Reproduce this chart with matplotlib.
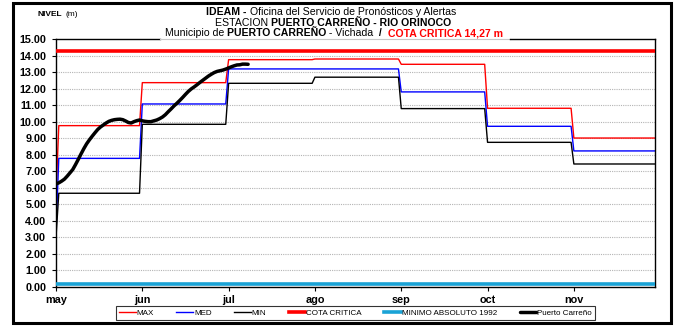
import matplotlib
matplotlib.use("Agg")
import matplotlib.pyplot as plt
from matplotlib.lines import Line2D
from matplotlib.patches import Rectangle
import calendar

plt.rcParams['font.family'] = ['Liberation Sans', 'DejaVu Sans']

W, H = 679, 326

# ---- data -------------------------------------------------------------
months = ['may', 'jun', 'jul', 'ago', 'sep', 'oct', 'nov']
month_days = [calendar.monthrange(2021, m)[1] for m in range(5, 12)]

# monthly historical levels (m)
max_vals = [9.76, 12.36, 13.75, 13.79, 13.47, 10.81, 9.01]
med_vals = [7.78, 11.07, 13.19, 13.19, 11.80, 9.72, 8.23]
min_vals = [5.67, 9.84, 12.32, 12.69, 10.79, 8.75, 7.44]
# level on the first day of the record
max_start, med_start, min_start = 5.5, 3.3, 3.0

cota_critica = 14.27
minimo_1992 = 0.20

# daily observed levels, Puerto Carreño (from 1 May)
obs_may = [6.23, 6.30, 6.40, 6.52, 6.70, 6.90, 7.10, 7.40, 7.72, 8.05,
           8.37, 8.66, 8.90, 9.12, 9.33, 9.53, 9.68, 9.80, 9.92, 10.02,
           10.08, 10.12, 10.14, 10.15, 10.12, 10.04, 9.95, 9.92, 10.00, 10.06,
           10.10]
obs_jun = [10.05, 10.02, 10.00, 10.00, 10.05, 10.10, 10.18, 10.28, 10.42, 10.60,
           10.77, 10.95, 11.11, 11.28, 11.46, 11.65, 11.83, 11.98, 12.10, 12.23,
           12.37, 12.50, 12.63, 12.76, 12.87, 12.97, 13.04, 13.08, 13.12, 13.18]
obs_jul = [13.25, 13.32, 13.38, 13.43, 13.44, 13.48, 13.48, 13.47]

# ---- helpers -------------------------------------------------------------
def day_pos(month_idx, day):
    """Position on the month axis of a given day (1-based)."""
    return month_idx + (day - 1) / month_days[month_idx]

def step_series(start, vals):
    xs, ys = [0.0], [start]
    for i, v in enumerate(vals):
        xs += [day_pos(i, 2) if i == 0 else day_pos(i, 1), day_pos(i, month_days[i])]
        ys += [v, v]
    return xs, ys

def fx(x):
    return x / W

def fy(y):
    return 1 - y / H

# ---- figure ---------------------------------------------------------------
fig = plt.figure(figsize=(W / 100, H / 100), dpi=100)
left, right, top, bottom = 56, 655, 39, 287
ax = fig.add_axes([fx(left), fy(bottom), fx(right) - fx(left), fy(top) - fy(bottom)])

xmax = 6.94
ax.set_xlim(0, xmax)
ax.set_ylim(0, 15)

for v in range(1, 15):
    ax.axhline(v, color='#b4b4b4', lw=0.8, ls=(0, (1, 1)), zorder=0)

x, y = step_series(max_start, max_vals)
ax.plot(x, y, color='#ff0000', lw=1.0, label='MAX', zorder=2)
x, y = step_series(med_start, med_vals)
ax.plot(x, y, color='#0000ff', lw=1.0, label='MED', zorder=2)
x, y = step_series(min_start, min_vals)
ax.plot(x, y, color='#000000', lw=1.0, label='MIN', zorder=2)

ax.axhline(cota_critica, color='#ff0000', lw=2.6, label='COTA CRITICA', zorder=3)
ax.axhline(minimo_1992, color='#1aa3d6', lw=2.6, label='MINIMO ABSOLUTO 1992', zorder=3)

obs_x = ([day_pos(0, d) for d in range(1, len(obs_may) + 1)] +
         [day_pos(1, d) for d in range(1, len(obs_jun) + 1)] +
         [day_pos(2, d) for d in range(1, len(obs_jul) + 1)])
obs_y = obs_may + obs_jun + obs_jul
ax.plot(obs_x, obs_y, color='black', lw=2.5, label='Puerto Carreño', zorder=4,
        solid_capstyle='round')

ax.set_yticks(range(0, 16))
ax.set_yticklabels([f'{v:.2f}' for v in range(0, 16)], fontsize=7.8, fontweight='bold')
ax.set_xticks(range(len(months)))
ax.set_xticklabels(months, fontsize=7.8, fontweight='bold')
ax.tick_params(axis='both', direction='out', length=3, width=0.8)
ax.tick_params(axis='y', pad=4)
ax.tick_params(axis='x', pad=2.5)
for s in ax.spines.values():
    s.set_linewidth(1.0)
    s.set_color('black')
ax.spines['top'].set_visible(False)

# top border of the plot area, broken by the title box
fig.add_artist(Line2D([fx(left), fx(160)], [fy(top), fy(top)], color='black', lw=1.0))
fig.add_artist(Line2D([fx(160), fx(510)], [fy(top), fy(top)], color='#c8c8c8', lw=0.8))
fig.add_artist(Line2D([fx(510), fx(right)], [fy(top), fy(top)], color='black', lw=1.0))

# legend
leg = ax.legend(loc='upper center', bbox_to_anchor=(0.5, -0.077), ncol=6,
                fontsize=5.8, frameon=True, fancybox=False, edgecolor='black',
                handlelength=2.1, handletextpad=0.12, columnspacing=2.75,
                borderpad=0.4, borderaxespad=0)
leg.get_frame().set_linewidth(0.8)

# outer frame
fig.add_artist(Rectangle((fx(13), fy(323)), fx(671) - fx(13), fy(3) - fy(323),
                         fill=False, edgecolor='black', lw=2.2))

# ---- titles -------------------------------------------------------------
fig.text(fx(37), fy(14.5), 'NIVEL', fontsize=6.0, fontweight='bold', va='center', ha='left')
fig.text(fx(65), fy(14.5), '(m)', fontsize=6.0, va='center', ha='left')

renderer = fig.canvas.get_renderer()

def rich_line(segments, ycenter, xcenter=338, size=7.6):
    pieces = []
    for txt, weight, color in segments:
        t = fig.text(0, fy(ycenter), txt, fontsize=size, fontweight=weight,
                     color=color, va='center', ha='left')
        pieces.append(t)
    widths = [p.get_window_extent(renderer).width for p in pieces]
    x0 = xcenter - sum(widths) / 2
    for p, w in zip(pieces, widths):
        p.set_x(fx(x0))
        x0 += w

rich_line([('IDEAM - ', 'bold', 'black'),
           ('Oficina del Servicio de Pronósticos y Alertas', 'normal', 'black')], 12, 331)
rich_line([('ESTACION ', 'normal', 'black'),
           ('PUERTO CARREÑO - RIO ORINOCO', 'bold', 'black')], 22.5, 333)
rich_line([('Municipio de ', 'normal', 'black'),
           ('PUERTO CARREÑO', 'bold', 'black'),
           (' - Vichada ', 'normal', 'black'),
           (' /  ', 'bold', 'black'),
           ('COTA CRITICA 14,27 m', 'bold', '#ff0000')], 33, 334)

fig.savefig('out.png', dpi=100)
